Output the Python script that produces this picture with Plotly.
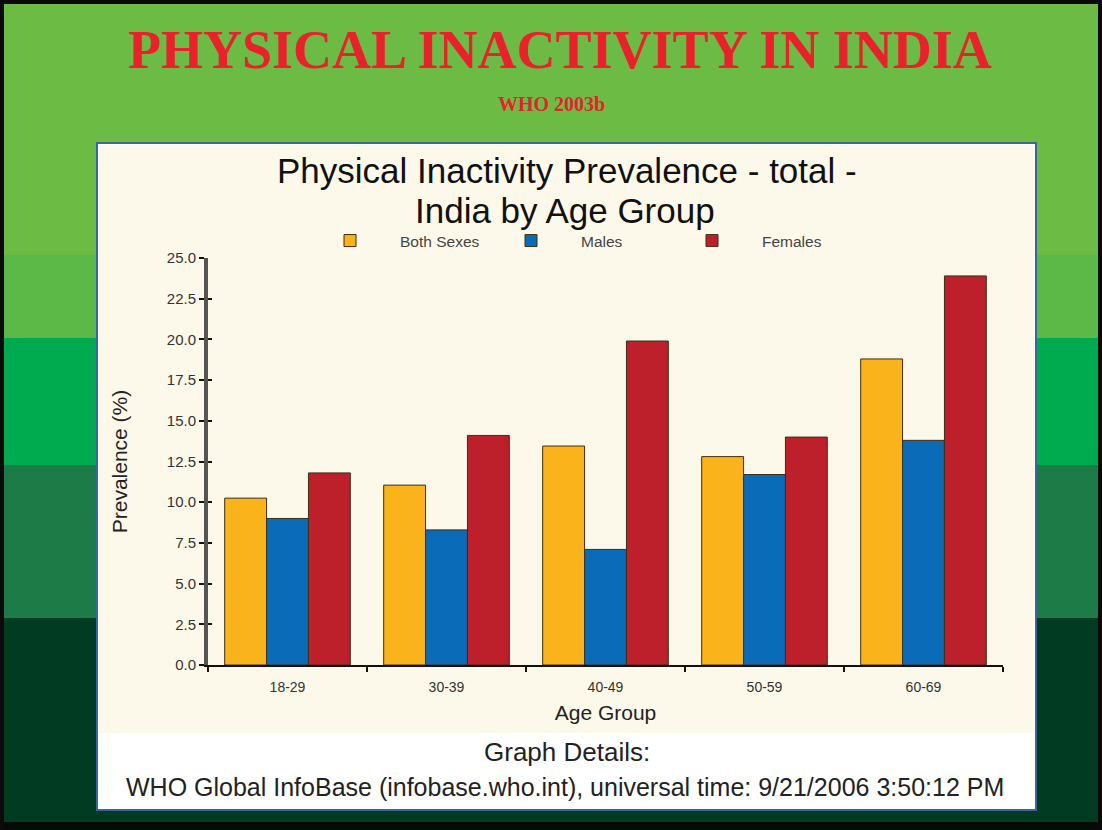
import plotly.graph_objects as go

# ---- data ----
age_groups = ["18-29", "30-39", "40-49", "50-59", "60-69"]
both_sexes = [10.25, 11.05, 13.45, 12.8, 18.8]
males = [9.0, 8.3, 7.1, 11.7, 13.8]
females = [11.8, 14.1, 19.9, 14.0, 23.9]
series_names = ["Both Sexes", "Males", "Females"]
series_colors = ["#fbb31b", "#0a6bb8", "#bd1f2b"]

W, H = 1102, 830


def px(x):
    return x / W


def py(y):
    return 1 - y / H


fig = go.Figure()
for name, vals, col in zip(series_names, [both_sexes, males, females], series_colors):
    fig.add_trace(go.Bar(
        x=age_groups, y=vals, name=name,
        marker=dict(color=col, line=dict(color="#3d2e14", width=1)),
    ))

# invisible trace on overlay axis to draw inner y ticks
fig.add_trace(go.Scatter(x=[age_groups[0]], y=[0], yaxis="y2", mode="markers",
                         marker=dict(opacity=0), showlegend=False, hoverinfo="skip"))

shapes = []
# background bands
bands = [(0, 255, "#6cbb45"), (255, 338, "#5cb947"), (338, 465, "#00aa4f"),
         (465, 618, "#1c7b46"), (618, 830, "#013c22")]
for y0, y1, c in bands:
    shapes.append(dict(type="rect", xref="paper", yref="paper", x0=0, x1=1,
                       y0=py(y1), y1=py(y0), fillcolor=c, line=dict(width=0), layer="below"))
# outer black frame
shapes.append(dict(type="rect", xref="paper", yref="paper", x0=0, x1=1, y0=py(830), y1=py(822),
                   fillcolor="#050a06", line=dict(width=0), layer="below"))
shapes.append(dict(type="rect", xref="paper", yref="paper", x0=px(2), x1=px(1100), y0=py(829), y1=py(2),
                   fillcolor="rgba(0,0,0,0)", line=dict(color="#0a0a0a", width=4), layer="below"))
# white panel
shapes.append(dict(type="rect", xref="paper", yref="paper", x0=px(97), x1=px(1036), y0=py(810), y1=py(143),
                   fillcolor="#ffffff", line=dict(color="#3a6797", width=2), layer="below"))
# cream area
shapes.append(dict(type="rect", xref="paper", yref="paper", x0=px(99), x1=px(1034), y0=py(733), y1=py(145),
                   fillcolor="#fdf9ea", line=dict(width=0), layer="below"))


def ann(text, x, y, size, color, family="Liberation Sans"):
    return dict(text=text, x=px(x), y=py(y), xref="paper", yref="paper", xanchor="center",
                yanchor="middle", showarrow=False, font=dict(family=family, size=size, color=color))


annotations = [
    ann("<b>PHYSICAL INACTIVITY IN INDIA</b>", 560, 50, 54, "#e8212b", "Liberation Serif"),
    ann("<b>WHO 2003b</b>", 551, 104, 20, "#e8212b", "Liberation Serif"),
    ann("Physical Inactivity Prevalence - total -", 567, 170, 35, "#111111"),
    ann("India by Age Group", 565, 211, 35, "#111111"),
    ann("Graph Details:", 567, 752, 26, "#222222"),
    ann("WHO Global InfoBase (infobase.who.int), universal time: 9/21/2006 3:50:12 PM", 565, 787, 25, "#222222"),
]

fig.update_layout(
    width=W, height=H, autosize=False,
    margin=dict(l=0, r=0, t=0, b=0, pad=0, autoexpand=False),
    paper_bgcolor="#6cbb45", plot_bgcolor="rgba(0,0,0,0)",
    barmode="group", bargap=0.21, bargroupgap=0,
    shapes=shapes, annotations=annotations,
    showlegend=True,
    legend=dict(orientation="h", x=px(300), y=py(241), xanchor="left", yanchor="middle",
                bgcolor="rgba(0,0,0,0)", font=dict(family="Liberation Sans", size=15.5, color="#444444"),
                itemwidth=90, entrywidth=76, entrywidthmode="pixels",
                itemclick=False, itemdoubleclick=False),
    xaxis=dict(domain=[px(208), px(1003)], tickson="boundaries", ticks="outside", ticklen=5,
               tickwidth=2, tickcolor="#111111", showline=True, linecolor="#111111", linewidth=2,
               showgrid=False, zeroline=False, ticklabelstandoff=8, automargin=False,
               tickfont=dict(family="Liberation Sans", size=14, color="#333333"),
               title=dict(text="Age Group", font=dict(family="Liberation Sans", size=21, color="#222222"),
                          standoff=12)),
    yaxis=dict(domain=[py(665), py(258)], range=[0, 25], dtick=2.5, tickformat=".1f",
               showline=True, linecolor="#555555", linewidth=4, ticks="outside", ticklen=5,
               tickwidth=2, tickcolor="#111111", showgrid=False, zeroline=False, automargin=False,
               tickfont=dict(family="Liberation Sans", size=15, color="#333333"),
               title=dict(text="Prevalence (%)", font=dict(family="Liberation Sans", size=21, color="#222222"),
                          standoff=34)),
    yaxis2=dict(overlaying="y", range=[0, 25], dtick=2.5, ticks="inside", ticklen=4, tickwidth=2,
                tickcolor="#111111", showticklabels=False, showgrid=False, zeroline=False,
                showline=False, side="left", automargin=False),
)

fig.write_html("out.html", config={"displayModeBar": False},
               post_script="document.body.style.margin='0';")
